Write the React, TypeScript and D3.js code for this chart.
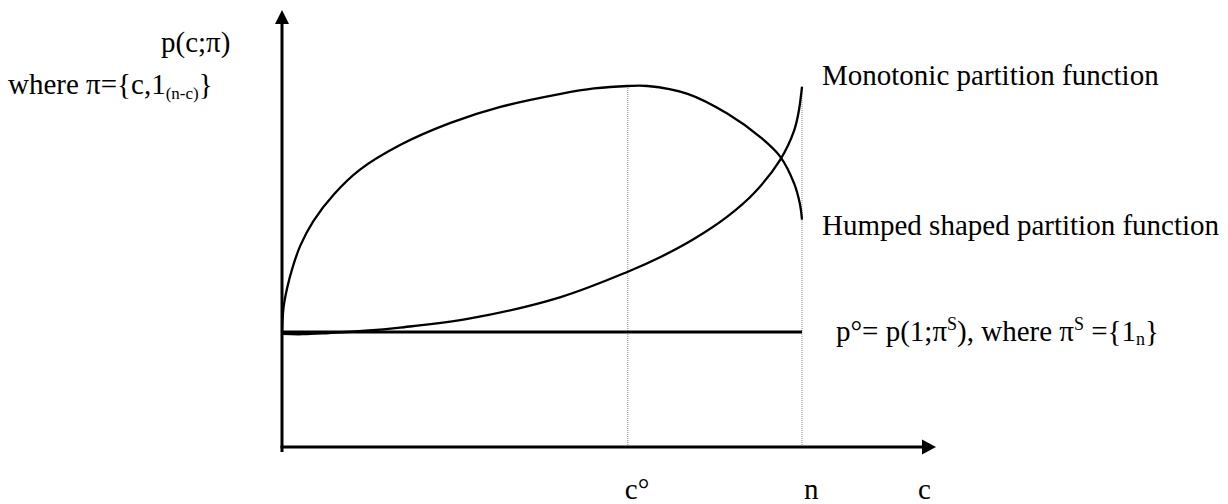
import React from 'react';
import * as d3 from 'd3';

// c values as share of n (0..100), p values relative to p° (0) and hump peak (100)
const humpC = [0, 0.3, 1, 2, 3.5, 6, 10, 15, 22.7, 32.4, 42, 53.6, 60, 66.5, 70.3, 78, 85.7, 92.1, 95.8, 98.5, 99.6, 100];
const humpP = [0, 10, 18, 26, 35, 45, 56, 66, 76, 85, 91.5, 96.8, 99, 100, 100, 96.8, 88.7, 79, 71.3, 60.3, 52, 45.7];

const monoC = [0, 4, 9, 16, 22.7, 36.2, 53.6, 66.5, 72.8, 79.2, 85.7, 90.8, 95.8, 98.5, 99.4, 100];
const monoP = [-0.8, -0.9, -0.4, 0.5, 1.8, 5.5, 14.2, 24.5, 30.5, 37.8, 47, 56.5, 70, 82, 90, 99.6];

const cStar = 66.5; // c°
const nVal = 100; // n
const baseP = 0; // p°

const W = 1228;
const H = 504;
const FONT = '"Liberation Serif", "Times New Roman", serif';

export default function App() {
  const x = d3.scaleLinear().domain([0, 100]).range([282, 802]);
  const y = d3.scaleLinear().domain([0, 100]).range([332, 86]);

  const axisY = 447; // horizontal axis position
  const axisTop = 10;
  const axisRight = 936;

  const line = d3
    .line<[number, number]>()
    .x((d) => x(d[0]))
    .y((d) => y(d[1]))
    .curve(d3.curveCatmullRom.alpha(0.5));

  const hump = humpC.map((c, i) => [c, humpP[i]] as [number, number]);
  const mono = monoC.map((c, i) => [c, monoP[i]] as [number, number]);

  const x0 = x(0);

  return (
    <svg width={W} height={H} style={{ position: 'absolute', left: 0, top: 0 }} fontFamily={FONT}>
      <rect width={W} height={H} fill="#fff" />

      {/* dotted guides */}
      <line x1={x(cStar)} x2={x(cStar)} y1={y(100)} y2={axisY} stroke="#888" strokeWidth={1} strokeDasharray="1,1" />
      <line x1={x(nVal)} x2={x(nVal)} y1={y(100)} y2={axisY} stroke="#888" strokeWidth={1} strokeDasharray="1,1" />

      {/* axes */}
      <line x1={x0} x2={x0} y1={axisTop + 12} y2={axisY + 5} stroke="#000" strokeWidth={3} />
      <path d={`M${x0},${axisTop} L${x0 - 7},${axisTop + 14} L${x0 + 7},${axisTop + 14} Z`} fill="#000" />
      <line x1={x0 - 1.5} x2={axisRight - 12} y1={axisY} y2={axisY} stroke="#000" strokeWidth={3} />
      <path d={`M${axisRight},${axisY} L${axisRight - 14},${axisY - 7.5} L${axisRight - 14},${axisY + 7.5} Z`} fill="#000" />

      {/* p° level */}
      <line x1={x0} x2={x(nVal)} y1={y(baseP)} y2={y(baseP)} stroke="#000" strokeWidth={3} />

      {/* curves */}
      <path d={line(mono) ?? ''} fill="none" stroke="#000" strokeWidth={2.3} />
      <path d={line(hump) ?? ''} fill="none" stroke="#000" strokeWidth={2.3} />

      {/* labels */}
      <g fontSize={29} fill="#000">
        <text x={161} y={52}>p(c;π)</text>
        <text x={8} y={94}>
          where π={'{'}c,1<tspan fontSize={17} dy={5}>(n-c)</tspan>
          <tspan dy={-5}>{'}'}</tspan>
        </text>
        <text x={822} y={85}>Monotonic partition function</text>
        <text x={822} y={235}>Humped shaped partition function</text>
        <text x={836} y={341}>
          p°= p(1;π<tspan fontSize={18} dy={-11}>S</tspan>
          <tspan dy={11}>), where π</tspan>
          <tspan fontSize={18} dy={-11}>S</tspan>
          <tspan dy={11}> ={'{'}1</tspan>
          <tspan fontSize={18} dy={4}>n</tspan>
          <tspan dy={-4}>{'}'}</tspan>
        </text>
        <text x={x(cStar) - 3} y={499}>c°</text>
        <text x={x(nVal) + 2} y={499}>n</text>
        <text x={918} y={499}>c</text>
      </g>
    </svg>
  );
}
